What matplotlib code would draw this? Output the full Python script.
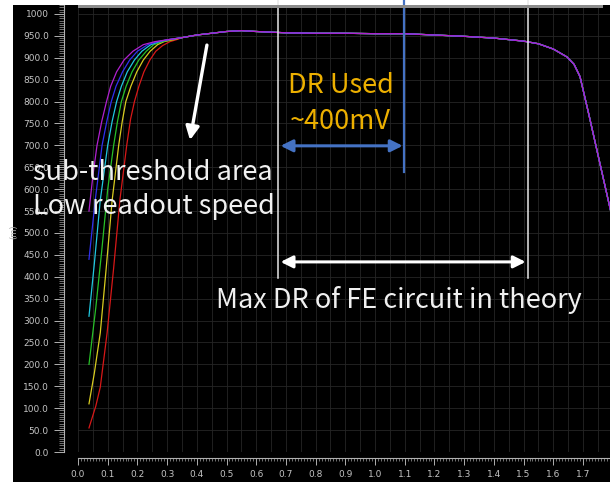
import matplotlib
matplotlib.use("Agg")
import matplotlib.pyplot as plt
from matplotlib.patches import Rectangle
from matplotlib.ticker import MultipleLocator, FuncFormatter

# rising edge of each curve (x in V, y in mV)
purple_x = [0.037, 0.05, 0.064, 0.08, 0.096, 0.11, 0.13, 0.155, 0.185, 0.22, 0.26, 0.3]
purple_y = [550, 630, 700, 755, 800, 835, 868, 895, 915, 930, 937, 941]
blue_x = [0.037, 0.058, 0.081, 0.097, 0.112, 0.128, 0.15, 0.174, 0.2, 0.235, 0.27, 0.3]
blue_y = [440, 575, 700, 755, 800, 835, 868, 895, 915, 930, 937, 941]
cyan_x = [0.037, 0.055, 0.075, 0.1, 0.115, 0.13, 0.146, 0.166, 0.19, 0.215, 0.245, 0.275, 0.3]
cyan_y = [310, 430, 575, 700, 755, 800, 835, 868, 895, 915, 930, 937, 941]
green_x = [0.037, 0.06, 0.08, 0.1, 0.12, 0.133, 0.146, 0.162, 0.182, 0.205, 0.23, 0.255, 0.285, 0.31]
green_y = [200, 330, 460, 600, 700, 755, 800, 835, 868, 895, 915, 930, 937, 941]
yellow_x = [0.037, 0.055, 0.075, 0.095, 0.115, 0.137, 0.149, 0.161, 0.178, 0.198, 0.22, 0.243, 0.268, 0.29, 0.32]
yellow_y = [110, 180, 272, 420, 575, 700, 755, 800, 835, 868, 895, 915, 930, 937, 941]
red_x = [0.037, 0.06, 0.075, 0.098, 0.12, 0.141, 0.164, 0.177, 0.19, 0.205, 0.222, 0.242, 0.262, 0.285, 0.31, 0.33]
red_y = [55, 105, 148, 272, 420, 575, 700, 760, 800, 835, 868, 895, 915, 928, 937, 941]

# shared plateau / fall-off
plateau_x = [0.35, 0.4, 0.45, 0.5, 0.55, 0.6, 0.7, 0.8, 0.9, 1.0, 1.1, 1.2, 1.3, 1.4,
             1.5, 1.55, 1.6, 1.646, 1.67, 1.69, 1.72, 1.75, 1.79, 1.8]
plateau_y = [946, 952, 956, 960, 962, 960, 957, 956, 956, 955, 955, 952, 949, 945,
             938, 932, 920, 902, 885, 857, 770, 680, 560, 530]

series = [
    (red_x, red_y, "#d81818"),
    (yellow_x, yellow_y, "#d8cc20"),
    (green_x, green_y, "#28c028"),
    (cyan_x, cyan_y, "#20c8e0"),
    (blue_x, blue_y, "#3030f0"),
    (purple_x, purple_y, "#b020d0"),
]

W, H = 610, 482
fig = plt.figure(figsize=(W / 100, H / 100), dpi=100, facecolor="white")
fig.add_artist(Rectangle((13 / W, 0), (W - 13) / W, (H - 5) / H,
                         transform=fig.transFigure, facecolor="black", zorder=0))
fig.add_artist(Rectangle((78 / W, 1 - 8 / H), 525 / W, 3 / H,
                         transform=fig.transFigure, facecolor="#8c8c8c", zorder=1))

ax = fig.add_axes([78 / W, 30 / H, 532 / W, 447 / H])
ax.set_facecolor("none")
ax.set_xlim(0, 1.791)
ax.set_ylim(0, 1020.5)

for xs, ys, c in series:
    ax.plot(xs + plateau_x, ys + plateau_y, color=c, lw=0.9, zorder=3)

# rulers
for s in ["top", "right"]:
    ax.spines[s].set_visible(False)
ax.spines["left"].set_position(("outward", 10))
ax.spines["bottom"].set_position(("outward", 4))
ax.spines["left"].set_color("#b0b0b0")
ax.spines["bottom"].set_color("#b0b0b0")
ax.xaxis.set_major_locator(MultipleLocator(0.1))
ax.xaxis.set_minor_locator(MultipleLocator(0.01))
ax.yaxis.set_major_locator(MultipleLocator(50))
ax.yaxis.set_minor_locator(MultipleLocator(5))
ax.yaxis.set_major_formatter(FuncFormatter(lambda v, p: "1000" if v >= 1000 else f"{v:.1f}"))
ax.xaxis.set_major_formatter(FuncFormatter(lambda v, p: f"{v:.1f}"))
ax.tick_params(axis="y", which="major", length=7, width=0.7, color="#b0b0b0",
               labelsize=6.5, labelcolor="#c4c4c4", pad=4)
ax.tick_params(axis="y", which="minor", length=3.5, width=0.5, color="#a0a0a0")
ax.tick_params(axis="x", which="major", length=5, width=0.7, color="#b0b0b0",
               labelsize=6.5, labelcolor="#c4c4c4", pad=4)
ax.tick_params(axis="x", which="minor", length=2.5, width=0.5, color="#a0a0a0")
ax.set_ylabel("(m)", color="#b0b0b0", fontsize=6)
ax.yaxis.set_label_coords(-0.113, 0.492)

for v in [i * 0.05 for i in range(36)]:
    ax.axvline(v, color="#262626", lw=0.6, zorder=1)
for v in range(0, 1001, 50):
    ax.axhline(v, color="#262626", lw=0.6, zorder=1)

# annotations
tf = ["Noto Sans CJK SC", "DejaVu Sans"]
ax.plot([0.673, 0.673], [397, 1032], color="#e8e8e8", lw=1.1, clip_on=False, zorder=4)
ax.plot([1.515, 1.515], [397, 1032], color="#e8e8e8", lw=1.1, clip_on=False, zorder=4)
ax.plot([1.098, 1.098], [640, 1032], color="#4472c4", lw=1.6, clip_on=False, zorder=4)

ax.annotate("", xy=(1.093, 699), xytext=(0.682, 699),
            arrowprops=dict(arrowstyle="<|-|>", color="#4472c4", lw=2.2,
                            mutation_scale=18, shrinkA=0, shrinkB=0), zorder=5)
ax.annotate("", xy=(1.507, 434), xytext=(0.682, 434),
            arrowprops=dict(arrowstyle="<|-|>", color="white", lw=2.2,
                            mutation_scale=18, shrinkA=0, shrinkB=0), zorder=5)
ax.annotate("", xy=(0.377, 712), xytext=(0.434, 929),
            arrowprops=dict(arrowstyle="-|>", color="white", lw=2.4,
                            mutation_scale=20, shrinkA=0, shrinkB=0), zorder=5)

kw = dict(family=tf, fontweight="light", va="center", zorder=6)
ax.text(0.885, 837, "DR Used", color="#edb000", fontsize=19.5, ha="center", **kw)
ax.text(0.885, 754, "~400mV", color="#edb000", fontsize=19.5, ha="center", **kw)
ax.text(-0.152, 637, "sub-threshold area", color="#f0f0f0", fontsize=19.5, ha="left", **kw)
ax.text(-0.152, 560, "Low readout speed", color="#f0f0f0", fontsize=19.5, ha="left", **kw)
ax.text(1.081, 347, "Max DR of FE circuit in theory", color="#f0f0f0", fontsize=19.5,
        ha="center", **kw)
for t in ax.texts:
    t.set_clip_on(False)

fig.savefig("out.png", dpi=100, facecolor="white")
